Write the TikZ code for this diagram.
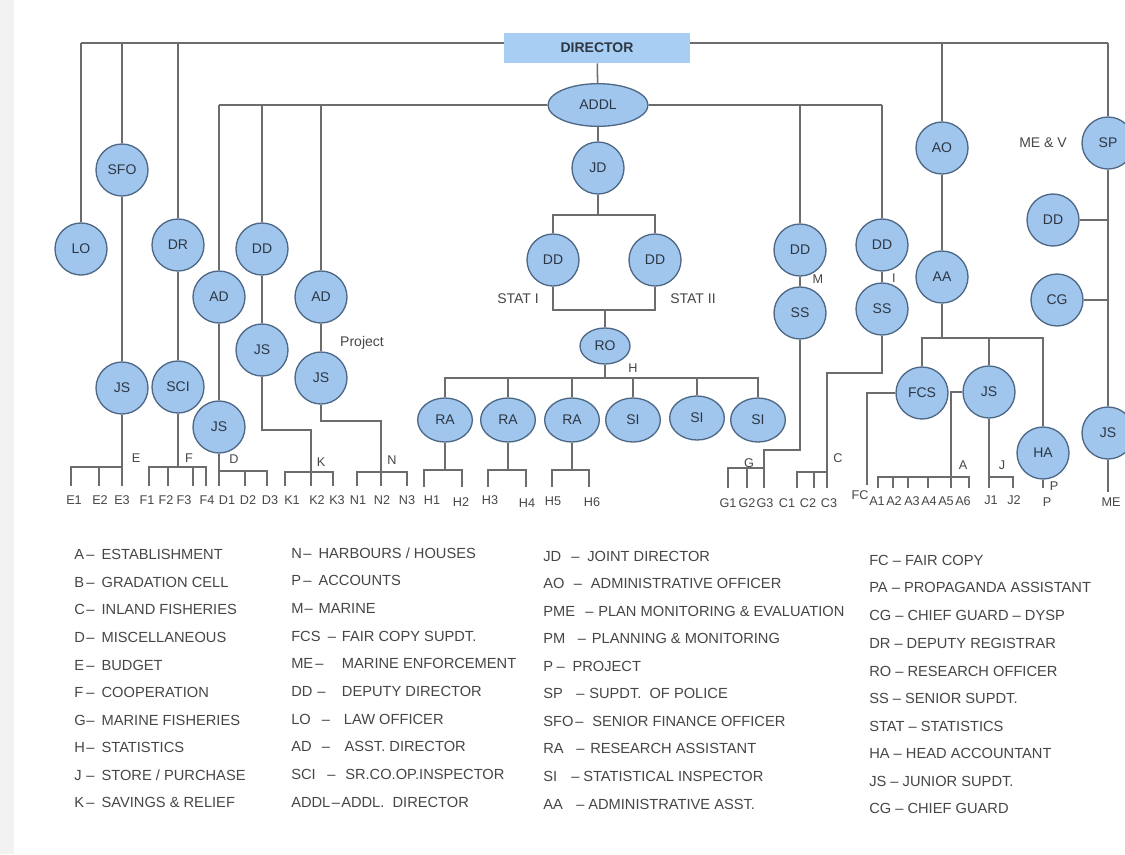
\documentclass[tikz,border=0pt]{standalone}
\usepackage{fontspec}
\setmainfont{Liberation Sans}
\usetikzlibrary{shapes.geometric}
\definecolor{nodefill}{RGB}{160,198,238}
\definecolor{dirfill}{RGB}{168,206,243}
\definecolor{nodeline}{RGB}{78,104,134}
\definecolor{connc}{RGB}{108,108,108}
\definecolor{txt}{RGB}{45,55,68}
\definecolor{legtxt}{RGB}{70,70,70}
\newcommand\legrow[4]{\makebox[#2][l]{#1}\makebox[#3][l]{–}#4}
\newcommand\nodefont{\fontsize{10.5}{12}\selectfont}
\newcommand\leaffont{\fontsize{9.5}{11}\selectfont}
\newcommand\legfont{\fontsize{11}{13}\selectfont}
\begin{document}
\begin{tikzpicture}[x=0.75pt,y=-0.75pt,
  conn/.style={draw=connc,line width=1.15pt},
  circ/.style={circle,draw=nodeline,fill=nodefill,line width=1pt,minimum size=39pt,inner sep=0pt,font=\nodefont,text=txt},
  oval/.style={ellipse,draw=nodeline,fill=nodefill,line width=1pt,inner sep=0pt,font=\nodefont,text=txt},
  raov/.style={oval,minimum width=41pt,minimum height=33pt},
  dirbox/.style={rectangle,fill=dirfill,minimum width=139pt,minimum height=22.5pt,inner sep=0pt,font=\nodefont\bfseries,text=txt},
  leaf/.style={font=\leaffont,text=legtxt,inner sep=0pt},
  tag/.style={font=\leaffont,text=legtxt,inner sep=0pt},
  leg/.style={anchor=west,font=\legfont,text=legtxt,inner sep=0pt}]
\useasboundingbox (0,0) rectangle (1125,854);
\fill[white] (0,0) rectangle (1125,854);
\fill[black!5] (0,0) rectangle (14,854);

% ---------- main nodes ----------
\node[dirbox] (dir) at (597,48) {DIRECTOR};
\node[oval,minimum width=75pt,minimum height=32pt] (addl) at (598,105) {ADDL};
\node[circ] (lo) at (81,249) {LO};
\node[circ] (sfo) at (122,170) {SFO};
\node[circ] (jsE) at (122,388) {JS};
\node[circ] (dr) at (178,245) {DR};
\node[circ] (sci) at (178,387) {SCI};
\node[circ] (adD) at (219,297) {AD};
\node[circ] (jsD) at (219,427) {JS};
\node[circ] (ddK) at (262,249) {DD};
\node[circ] (jsK) at (262,350) {JS};
\node[circ] (adN) at (321,297) {AD};
\node[circ] (jsN) at (321,378) {JS};
\node[circ] (jd) at (598,168) {JD};
\node[circ] (dds1) at (553,260) {DD};
\node[circ] (dds2) at (655,260) {DD};
\node[oval,minimum width=37.5pt,minimum height=27pt] (ro) at (605,346) {RO};
\node[raov] (ra1) at (445,420) {RA};
\node[raov] (ra2) at (508,420) {RA};
\node[raov] (ra3) at (572,420) {RA};
\node[raov] (si1) at (633,420) {SI};
\node[raov] (si2) at (697,418) {SI};
\node[raov] (si3) at (758,420) {SI};
\node[circ] (ddM) at (800,250) {DD};
\node[circ] (ssM) at (800,313) {SS};
\node[circ] (ddI) at (882,245) {DD};
\node[circ] (ssI) at (882,309) {SS};
\node[circ] (ao) at (942,148) {AO};
\node[circ] (aa) at (942,277) {AA};
\node[circ] (fcs) at (922,393) {FCS};
\node[circ] (jsA) at (989,392) {JS};
\node[circ] (ha) at (1043,453) {HA};
\node[circ] (sp) at (1108,143) {SP};
\node[circ] (ddSP) at (1053,220) {DD};
\node[circ] (cg) at (1057,300) {CG};
\node[circ] (jsME) at (1108,433) {JS};

% ---------- leaf labels ----------
\node[leaf] (e1) at (74,500) {E1};
\node[leaf] (e2) at (100,500) {E2};
\node[leaf] (e3) at (122,500) {E3};
\node[leaf] (f1) at (147,500) {F1};
\node[leaf] (f2) at (166,500) {F2};
\node[leaf] (f3) at (184,500) {F3};
\node[leaf] (f4) at (207,500) {F4};
\node[leaf] (d1) at (227,500) {D1};
\node[leaf] (d2) at (248,500) {D2};
\node[leaf] (d3) at (270,500) {D3};
\node[leaf] (k1) at (292,500) {K1};
\node[leaf] (k2) at (317,500) {K2};
\node[leaf] (k3) at (337,500) {K3};
\node[leaf] (n1) at (358,500) {N1};
\node[leaf] (n2) at (382,500) {N2};
\node[leaf] (n3) at (407,500) {N3};
\node[leaf] (h1) at (432,500) {H1};
\node[leaf] (h2) at (461,502) {H2};
\node[leaf] (h3) at (490,500) {H3};
\node[leaf] (h4) at (527,503) {H4};
\node[leaf] (h5) at (553,501) {H5};
\node[leaf] (h6) at (592,502) {H6};
\node[leaf] (g1) at (728,503) {G1};
\node[leaf] (g2) at (747,503) {G2};
\node[leaf] (g3) at (765,503) {G3};
\node[leaf] (c1) at (787,503) {C1};
\node[leaf] (c2) at (808,503) {C2};
\node[leaf] (c3) at (829,503) {C3};
\node[leaf] (fc) at (860,495) {FC};
\node[leaf] (a1) at (877,501) {A1};
\node[leaf] (a2) at (894,501) {A2};
\node[leaf] (a3) at (912,501) {A3};
\node[leaf] (a4) at (929,501) {A4};
\node[leaf] (a5) at (946,501) {A5};
\node[leaf] (a6) at (963,501) {A6};
\node[leaf] (j1) at (991,500) {J1};
\node[leaf] (j2) at (1014,500) {J2};
\node[leaf] (p) at (1047,502) {P};
\node[leaf] (me) at (1111,502) {ME};

% ---------- tags ----------
\node[tag] (tE) at (136,458) {E};
\node[tag] (tF) at (189,458) {F};
\node[tag] (tD) at (234,459) {D};
\node[tag] (tK) at (321,462) {K};
\node[tag] (tN) at (392,460) {N};
\node[tag] (tH) at (633,368) {H};
\node[tag] (tG) at (749,463) {G};
\node[tag] (tC) at (838,458) {C};
\node[tag] (tA) at (963,465) {A};
\node[tag] (tJ) at (1002,465) {J};
\node[tag] (tP) at (1054,486) {P};
\node[tag] (tM) at (818,279) {M};
\node[tag] (tI) at (894,278) {I};
\node[tag,font=\nodefont] (stat1) at (518,299) {STAT I};
\node[tag,font=\nodefont] (stat2) at (693,299) {STAT II};
\node[tag,font=\nodefont] (proj) at (362,343) {Project};
\node[tag,font=\nodefont] (mev) at (1043,143) {ME \& V};

% ---------- coordinates ----------
\coordinate (tL) at (81,43);
\coordinate (tR) at (1108,43);
\coordinate (aL) at (219,105);
\coordinate (aR) at (882,105);
\coordinate (jdb) at (598,215);
\coordinate (sb) at (605,310);
\coordinate (hb) at (605,378);
\coordinate (aab) at (942,338);
% E
\coordinate (e1t) at (71,486); \coordinate (e2t) at (99,486); \coordinate (e3t) at (122,486);
\coordinate (eb) at (122,467);
% F
\coordinate (f1t) at (149,486); \coordinate (f2t) at (168,486); \coordinate (f3t) at (193,486); \coordinate (f4t) at (206,486);
\coordinate (fb) at (178,467);
% D
\coordinate (d1t) at (219,486); \coordinate (d2t) at (245,486); \coordinate (d3t) at (267,486);
\coordinate (db) at (219,471);
% K
\coordinate (kc1) at (262,430); \coordinate (kc2) at (311,430);
\coordinate (k1t) at (285,486); \coordinate (k2t) at (311,486); \coordinate (k3t) at (333,486);
\coordinate (kb) at (311,472);
% N
\coordinate (nc1) at (321,421); \coordinate (nc2) at (381,421);
\coordinate (n1t) at (357,486); \coordinate (n2t) at (381,486); \coordinate (n3t) at (407,486);
\coordinate (nb) at (381,472);
% H
\coordinate (hb1) at (445,470); \coordinate (hb2) at (508,470); \coordinate (hb3) at (572,470);
\coordinate (h1t) at (424,487); \coordinate (h2t) at (462,487);
\coordinate (h3t) at (488,487); \coordinate (h4t) at (526,487);
\coordinate (h5t) at (552,487); \coordinate (h6t) at (589,487);
% G
\coordinate (gc1) at (800,450); \coordinate (gc2) at (764,450);
\coordinate (g1t) at (728,488); \coordinate (g2t) at (747,488); \coordinate (g3t) at (764,488);
\coordinate (gb) at (764,468);
% C
\coordinate (cc1) at (882,373); \coordinate (cc2) at (827,373);
\coordinate (c1t) at (797,488); \coordinate (c2t) at (814,488); \coordinate (c3t) at (827,488);
\coordinate (cb) at (827,472);
% FC, A, J, P, ME
\coordinate (fct) at (867,485);
\coordinate (a1t) at (878,488); \coordinate (a2t) at (893,488); \coordinate (a3t) at (908,488);
\coordinate (a4t) at (928,488); \coordinate (a5t) at (951,488); \coordinate (a6t) at (969,488);
\coordinate (ab) at (951,477);
\coordinate (j1t) at (989,488); \coordinate (j2t) at (1013,488);
\coordinate (jb) at (989,477);
\coordinate (pt) at (1043,488);
\coordinate (met) at (1108,492);

% ---------- connectors ----------
\draw[conn] (tL) -- (tL -| dir.west);
\draw[conn] (tR -| dir.east) -- (tR);
\draw[conn] (tL) -- (lo);
\draw[conn] (sfo |- tL) -- (sfo);
\draw[conn] (dr |- tL) -- (dr);
\draw[conn] (ao |- tL) -- (ao);
\draw[conn] (tR) -- (sp);
\draw[conn] (dir) -- (addl);
\draw[conn] (aL) -- (addl);
\draw[conn] (addl) -- (aR);
\draw[conn] (aL) -- (adD);
\draw[conn] (ddK |- aL) -- (ddK);
\draw[conn] (adN |- aL) -- (adN);
\draw[conn] (ddM |- aL) -- (ddM);
\draw[conn] (aR) -- (ddI);
\draw[conn] (sfo) -- (jsE);
\draw[conn] (dr) -- (sci);
\draw[conn] (adD) -- (jsD);
\draw[conn] (ddK) -- (jsK);
\draw[conn] (adN) -- (jsN);
\draw[conn] (addl) -- (jd);
\draw[conn] (ddM) -- (ssM);
\draw[conn] (ddI) -- (ssI);
\draw[conn] (ao) -- (aa);
\draw[conn] (sp) -- (jsME);
\draw[conn] (ddSP) -- (ddSP -| sp);
\draw[conn] (cg) -- (cg -| sp);
% JD / statistics
\draw[conn] (jd) -- (jdb);
\draw[conn] (dds1) |- (jdb) -| (dds2);
\draw[conn] (dds1) |- (sb) -| (dds2);
\draw[conn] (sb) -- (ro);
\draw[conn] (ro) -- (hb);
\draw[conn] (ra1) |- (hb) -| (si3);
\draw[conn] (ra2 |- hb) -- (ra2);
\draw[conn] (ra3 |- hb) -- (ra3);
\draw[conn] (si1 |- hb) -- (si1);
\draw[conn] (si2 |- hb) -- (si2);
\draw[conn] (ra1) -- (hb1);
\draw[conn] (h1t) |- (hb1) -| (h2t);
\draw[conn] (ra2) -- (hb2);
\draw[conn] (h3t) |- (hb2) -| (h4t);
\draw[conn] (ra3) -- (hb3);
\draw[conn] (h5t) |- (hb3) -| (h6t);
% E
\draw[conn] (jsE) -- (e3t);
\draw[conn] (e1t) |- (eb);
\draw[conn] (e2t) -- (e2t |- eb);
% F
\draw[conn] (sci) -- (fb);
\draw[conn] (f1t) |- (fb) -| (f4t);
\draw[conn] (f2t) -- (f2t |- fb);
\draw[conn] (f3t) -- (f3t |- fb);
% D
\draw[conn] (jsD) -- (d1t);
\draw[conn] (db) -| (d3t);
\draw[conn] (d2t) -- (d2t |- db);
% K
\draw[conn] (jsK) -- (kc1) -- (kc2) -- (k2t);
\draw[conn] (k1t) |- (kb) -| (k3t);
% N
\draw[conn] (jsN) -- (nc1) -- (nc2) -- (n2t);
\draw[conn] (n1t) |- (nb) -| (n3t);
% G
\draw[conn] (ssM) -- (gc1) -- (gc2) -- (g3t);
\draw[conn] (g1t) |- (gb);
\draw[conn] (g2t) -- (g2t |- gb);
% C
\draw[conn] (ssI) -- (cc1) -- (cc2) -- (c3t);
\draw[conn] (c1t) |- (cb);
\draw[conn] (c2t) -- (c2t |- cb);
% AA branch
\draw[conn] (aa) -- (aab);
\draw[conn] (fcs) |- (aab) -| (ha);
\draw[conn] (jsA |- aab) -- (jsA);
\draw[conn] (fcs) -| (fct);
\draw[conn] (jsA) -| (a5t);
\draw[conn] (a1t) |- (ab) -| (a6t);
\draw[conn] (a2t) -- (a2t |- ab);
\draw[conn] (a3t) -- (a3t |- ab);
\draw[conn] (a4t) -- (a4t |- ab);
\draw[conn] (jsA) -- (j1t);
\draw[conn] (jb) -| (j2t);
\draw[conn] (ha) -- (pt);
\draw[conn] (jsME) -- (met);

% ---------- legend ----------
\node[leg] (l1) at (74,554) {\legrow{A}{9pt}{11.5pt}{ESTABLISHMENT}};
\node[leg] (l2) at (74,582) {\legrow{B}{9pt}{11.5pt}{GRADATION CELL}};
\node[leg] (l3) at (74,609) {\legrow{C}{9pt}{11.5pt}{INLAND FISHERIES}};
\node[leg] (l4) at (74,637) {\legrow{D}{9pt}{11.5pt}{MISCELLANEOUS}};
\node[leg] (l5) at (74,665) {\legrow{E}{9pt}{11.5pt}{BUDGET}};
\node[leg] (l6) at (74,692) {\legrow{F}{9pt}{11.5pt}{COOPERATION}};
\node[leg] (l7) at (74,720) {\legrow{G}{9pt}{11.5pt}{MARINE FISHERIES}};
\node[leg] (l8) at (74,747) {\legrow{H}{9pt}{11.5pt}{STATISTICS}};
\node[leg] (l9) at (74,775) {\legrow{J}{9pt}{11.5pt}{STORE / PURCHASE}};
\node[leg] (l10) at (74,802) {\legrow{K}{9pt}{11.5pt}{SAVINGS \& RELIEF}};

\node[leg] (l11) at (291,553) {\legrow{N}{9pt}{11.5pt}{HARBOURS / HOUSES}};
\node[leg] (l12) at (291,580) {\legrow{P}{9pt}{11.5pt}{ACCOUNTS}};
\node[leg] (l13) at (291,608) {\legrow{M}{10pt}{10.5pt}{MARINE}};
\node[leg] (l14) at (291,636) {\legrow{FCS}{27.5pt}{10.5pt}{FAIR COPY SUPDT.}};
\node[leg] (l15) at (291,663) {\legrow{ME}{18pt}{20pt}{MARINE ENFORCEMENT}};
\node[leg] (l16) at (291,691) {\legrow{DD}{19.5pt}{18.5pt}{DEPUTY DIRECTOR}};
\node[leg] (l17) at (291,719) {\legrow{LO}{23pt}{16.5pt}{LAW OFFICER}};
\node[leg] (l18) at (291,746) {\legrow{AD}{23pt}{17pt}{ASST. DIRECTOR}};
\node[leg] (l19) at (291,774) {\legrow{SCI}{27pt}{13.5pt}{SR.CO.OP.INSPECTOR}};
\node[leg] (l20) at (291,802) {\legrow{ADDL}{30.5pt}{7pt}{ADDL.\ \ DIRECTOR}};

\node[leg] (l21) at (543,556) {\legrow{JD}{21pt}{12pt}{JOINT DIRECTOR}};
\node[leg] (l22) at (543,583) {\legrow{AO}{23pt}{12.75pt}{ADMINISTRATIVE OFFICER}};
\node[leg] (l23) at (543,611) {\legrow{PME}{31.5pt}{9.75pt}{PLAN MONITORING \& EVALUATION}};
\node[leg] (l24) at (543,638) {\legrow{PM}{26pt}{10.5pt}{PLANNING \& MONITORING}};
\node[leg] (l25) at (543,666) {\legrow{P}{10pt}{12pt}{PROJECT}};
\node[leg] (l26) at (543,693) {\legrow{SP}{24.75pt}{9.75pt}{SUPDT.\ \ OF POLICE}};
\node[leg] (l27) at (543,721) {\legrow{SFO}{24pt}{12.75pt}{SENIOR FINANCE OFFICER}};
\node[leg] (l28) at (543,748) {\legrow{RA}{24.75pt}{10.5pt}{RESEARCH ASSISTANT}};
\node[leg] (l29) at (543,776) {\legrow{SI}{21pt}{9pt}{STATISTICAL INSPECTOR}};
\node[leg] (l30) at (543,804) {\legrow{AA}{24.75pt}{9pt}{ADMINISTRATIVE ASST.}};

\node[leg] (l31) at (869,560) {FC – FAIR COPY};
\node[leg] (l32) at (869,587) {PA – PROPAGANDA ASSISTANT};
\node[leg] (l33) at (869,615) {CG – CHIEF GUARD – DYSP};
\node[leg] (l34) at (869,643) {DR – DEPUTY REGISTRAR};
\node[leg] (l35) at (869,671) {RO – RESEARCH OFFICER};
\node[leg] (l36) at (869,698) {SS – SENIOR SUPDT.};
\node[leg] (l37) at (869,726) {STAT – STATISTICS};
\node[leg] (l38) at (869,753) {HA – HEAD ACCOUNTANT};
\node[leg] (l39) at (869,781) {JS – JUNIOR SUPDT.};
\node[leg] (l40) at (869,808) {CG – CHIEF GUARD};
\end{tikzpicture}
\end{document}
